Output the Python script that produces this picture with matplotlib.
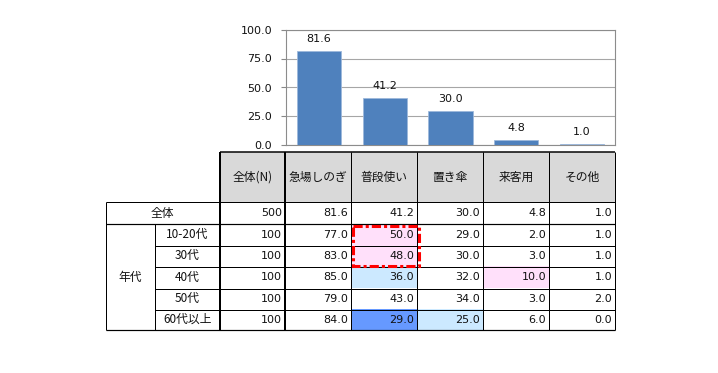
import matplotlib
matplotlib.use("Agg")
import matplotlib.pyplot as plt
from matplotlib.patches import Rectangle

# ---------------- data ----------------
categories = ['急場しのぎ', '普段使い', '置き傘', '来客用', 'その他']
overall_values = [81.6, 41.2, 30.0, 4.8, 1.0]
overall_n = 500
age_groups = ['10-20代', '30代', '40代', '50代', '60代以上']
age_n = [100, 100, 100, 100, 100]
age_values = [
    [77.0, 50.0, 29.0, 2.0, 1.0],
    [83.0, 48.0, 30.0, 3.0, 1.0],
    [85.0, 36.0, 32.0, 10.0, 1.0],
    [79.0, 43.0, 34.0, 3.0, 2.0],
    [84.0, 29.0, 25.0, 6.0, 0.0],
]
y_ticks = [0.0, 25.0, 50.0, 75.0, 100.0]

# highlight colours (row index in age table, category index)
PINK = '#ffe0fa'
LBLUE = '#cce9ff'
BLUE = '#6699ff'
highlights = {(0, 1): PINK, (1, 1): PINK, (2, 1): LBLUE, (4, 1): BLUE,
              (4, 2): LBLUE, (2, 3): PINK}

JP = ['Noto Sans CJK JP', 'DejaVu Sans']
NUM = ['DejaVu Sans']

W, H = 718, 373
fig = plt.figure(figsize=(W / 100, H / 100), dpi=100)
fig.patch.set_facecolor('white')

# ---------------- bar chart ----------------
px_l, px_r, px_t, px_b = 286, 615, 29.5, 145.5
ax = fig.add_axes([px_l / W, 1 - px_b / H, (px_r - px_l) / W, (px_b - px_t) / H])
xs = list(range(len(categories)))
ax.bar(xs, overall_values, width=0.67, color='#4f81bd',
       edgecolor='#9db8db', linewidth=0.6, zorder=3)
for x, v in zip(xs, overall_values):
    ax.annotate(f'{v:.1f}', (x, v), xytext=(0, 5), textcoords='offset points',
                ha='center', va='bottom', fontsize=8, family=NUM, color='#111111')
ax.set_xlim(-0.5, len(categories) - 0.5)
ax.set_ylim(0, 100)
ax.set_yticks(y_ticks)
ax.set_yticklabels([f'{t:.1f}' for t in y_ticks], fontsize=8, family=NUM)
ax.set_xticks([])
ax.yaxis.grid(True, color='#a6a6a6', linewidth=0.8, zorder=0)
ax.tick_params(axis='y', length=3.5, color='#888888', pad=6.5, labelcolor='#111111')
for s in ax.spines.values():
    s.set_color('#8c8c8c')
    s.set_linewidth(0.8)

# ---------------- table ----------------
tab = fig.add_axes([0, 0, 1, 1])
tab.set_xlim(0, W)
tab.set_ylim(H, 0)
tab.axis('off')

col_edges = [220, 285, 351, 417, 483, 549, 615]
left_edges = [105.5, 155]
hdr_top, hdr_bot = 152, 202
tot_bot = 224
row_h = (330 - 224) / len(age_groups)
row_edges = [tot_bot + i * row_h for i in range(len(age_groups) + 1)]
PX = 0.72  # 1 px in points

# header fill
tab.add_patch(Rectangle((col_edges[0], hdr_top), col_edges[-1] - col_edges[0],
                        hdr_bot - hdr_top, facecolor='#d9d9d9', edgecolor='none'))
# highlighted cells
for (r, c), colr in highlights.items():
    tab.add_patch(Rectangle((col_edges[c + 1], row_edges[r]),
                            col_edges[c + 2] - col_edges[c + 1], row_h,
                            facecolor=colr, edgecolor='none'))

header_labels = ['全体(N)'] + categories
for i, lab in enumerate(header_labels):
    cx = (col_edges[i] + col_edges[i + 1]) / 2
    tab.text(cx, (hdr_top + hdr_bot) / 2, lab, ha='center', va='center',
             fontsize=8.5, family=JP, color='#111111')

def put_row(y0, y1, n, vals):
    cy = (y0 + y1) / 2 + 0.5
    tab.text(col_edges[1] - 3, cy, f'{n}', ha='right', va='center',
             fontsize=8, family=NUM, color='#111111')
    for j, v in enumerate(vals):
        tab.text(col_edges[j + 2] - 3, cy, f'{v:.1f}', ha='right', va='center',
                 fontsize=8, family=NUM, color='#111111')

# overall row
tab.text((left_edges[0] + col_edges[0]) / 2, (hdr_bot + tot_bot) / 2, '全体',
         ha='center', va='center', fontsize=8.5, family=JP, color='#111111')
put_row(hdr_bot, tot_bot, overall_n, overall_values)

# age rows
tab.text((left_edges[0] + left_edges[1]) / 2, (row_edges[0] + row_edges[-1]) / 2,
         '年代', ha='center', va='center', fontsize=8.5, family=JP, color='#111111')
for i, g in enumerate(age_groups):
    y0, y1 = row_edges[i], row_edges[i + 1]
    tab.text((left_edges[1] + col_edges[0]) / 2, (y0 + y1) / 2, g,
             ha='center', va='center', fontsize=8.5, family=JP, color='#111111')
    put_row(y0, y1, age_n[i], age_values[i])

# grid lines
lk = dict(color='black', solid_capstyle='butt')
tab.plot([col_edges[0], col_edges[-1]], [hdr_top, hdr_top], lw=1.5 * PX, **lk)
for x in col_edges:
    lw = 2 * PX if x in (col_edges[0], col_edges[1]) else 1 * PX
    tab.plot([x, x], [hdr_top, row_edges[-1]], lw=lw, **lk)
tab.plot([left_edges[0], left_edges[0]], [hdr_bot, row_edges[-1]], lw=1 * PX, **lk)
tab.plot([left_edges[1], left_edges[1]], [tot_bot, row_edges[-1]], lw=1 * PX, **lk)
tab.plot([left_edges[0], col_edges[-1]], [hdr_bot, hdr_bot], lw=1 * PX, **lk)
tab.plot([left_edges[0], col_edges[-1]], [tot_bot, tot_bot], lw=1.2 * PX, **lk)
tab.plot([left_edges[0], col_edges[-1]], [row_edges[-1], row_edges[-1]], lw=1.2 * PX, **lk)
for y in row_edges[1:-1]:
    tab.plot([left_edges[1], col_edges[-1]], [round(y) + 0.5] * 2, lw=1 * PX,
             color='black', linestyle=(0, (1, 1)), antialiased=False)

# red dashed highlight box around 普段使い for 10-20代 and 30代
tab.add_patch(Rectangle((col_edges[2] + 1.5, row_edges[0] + 1.5),
                        col_edges[3] - col_edges[2] + 0.5, 2 * row_h - 1.5,
                        facecolor='none', edgecolor='#ff0000', lw=2.2,
                        linestyle=(0, (3, 1, 1, 1)), zorder=5))

fig.savefig('out.png', dpi=100, facecolor='white')
